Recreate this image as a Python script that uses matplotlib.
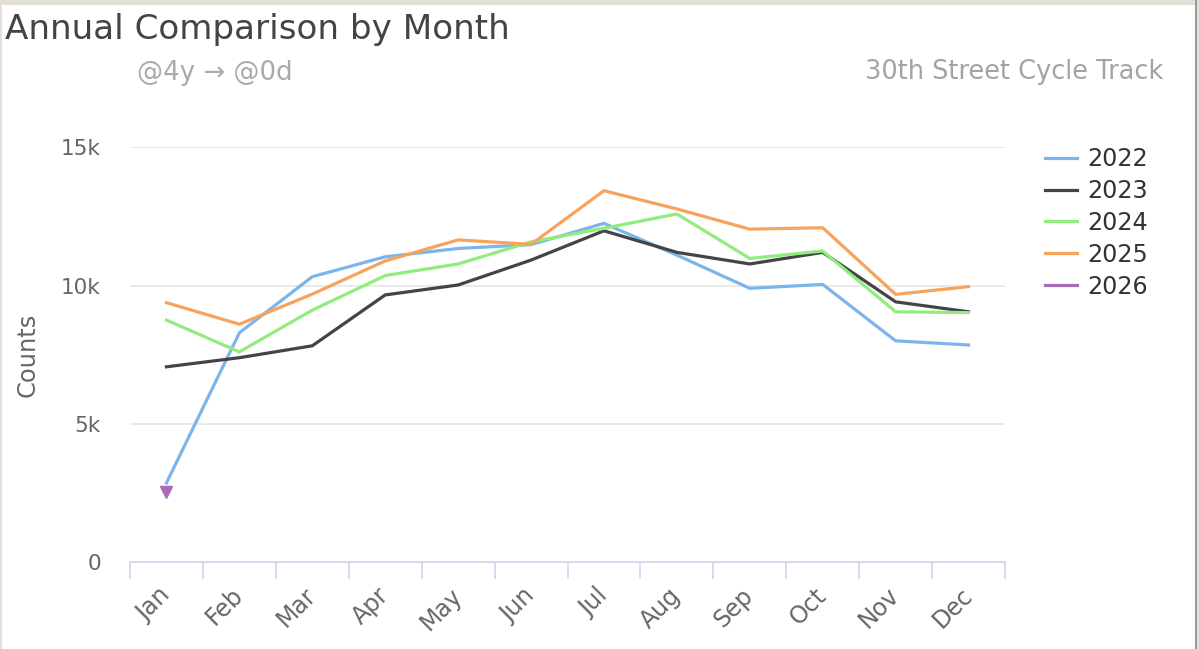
import numpy as np
import matplotlib
matplotlib.use('Agg')
import matplotlib.pyplot as plt
from matplotlib.lines import Line2D
from matplotlib.patches import Rectangle
import matplotlib.transforms as mtransforms

plt.rcParams['font.family'] = ['DejaVu Sans']

# ---------------- data ----------------
months = ['Jan', 'Feb', 'Mar', 'Apr', 'May', 'Jun',
          'Jul', 'Aug', 'Sep', 'Oct', 'Nov', 'Dec']
years = ['2022', '2023', '2024', '2025', '2026']
y2022 = [2860, 8290, 10320, 11040, 11340, 11480, 12250, 11100, 9900, 10040, 8000, 7850]
y2023 = [7060, 7390, 7820, 9660, 10020, 10920, 11980, 11200, 10780, 11200, 9410, 9050]
y2024 = [8750, 7600, 9110, 10360, 10780, 11580, 12070, 12590, 10980, 11250, 9050, 9020]
y2025 = [9380, 8600, 9690, 10890, 11650, 11490, 13430, 12770, 12040, 12090, 9680, 9960]
y2026 = [2540]
yticks = [0, 5000, 10000, 15000]
yticklabels = ['0', '5k', '10k', '15k']

colors = ['#7cb5ec', '#434348', '#90ed7d', '#f7a35c', '#a86cb8']

W, H = 1199, 649
fig = plt.figure(figsize=(W / 100, H / 100), dpi=100)
fig.patch.set_facecolor('white')
renderer = fig.canvas.get_renderer()


def fx(px):
    return px / W


def fy(py):
    return 1 - py / H


def fit(t, target_px, horizontal=True):
    for _ in range(3):
        bb = t.get_window_extent(renderer=renderer)
        cur = bb.width if horizontal else bb.height
        if cur > 0:
            t.set_fontsize(t.get_fontsize() * target_px / cur)


# frame decorations (screenshot border)
fig.add_artist(Rectangle((0, fy(5)), 1, fy(0) - fy(5), transform=fig.transFigure,
                         facecolor='#e4e0d9', edgecolor='none'))
fig.add_artist(Rectangle((0, 0), fx(2), 1, transform=fig.transFigure,
                         facecolor='#e4e0d9', edgecolor='none'))
fig.add_artist(Rectangle((fx(1195), 0), fx(2), 1, transform=fig.transFigure,
                         facecolor='#9a9a9a', edgecolor='none'))
fig.add_artist(Rectangle((fx(1197), 0), fx(2), 1, transform=fig.transFigure,
                         facecolor='#e4e0d9', edgecolor='none'))

ax = fig.add_axes([fx(130), fy(562), fx(1005) - fx(130), fy(147.3) - fy(562)])
x = np.arange(len(months))
series = [y2022, y2023, y2024, y2025]
for vals, c in zip(series, colors[:4]):
    ax.plot(x[:len(vals)], vals, color=c, lw=2.3, solid_joinstyle='round', zorder=3)
ax.plot(x[:len(y2026)], y2026, color=colors[4], lw=2.3, marker='v', markersize=8,
        linestyle='-', zorder=4)

ax.set_xlim(-0.5, len(months) - 0.5)
ax.set_ylim(0, 15000)
ax.set_yticks(yticks)
ax.set_yticklabels(yticklabels)
ax.yaxis.grid(True, color='#e6e6e6', lw=1.2)
ax.set_axisbelow(True)
for s in ['top', 'right', 'left']:
    ax.spines[s].set_visible(False)
ax.spines['bottom'].set_color('#ccd6eb')
ax.spines['bottom'].set_linewidth(1.2)
ax.spines['bottom'].set_zorder(5)

ax.tick_params(axis='y', length=0, pad=21, labelcolor='#666666', labelsize=15.5)
ax.set_xticks(x)
ax.set_xticks(np.arange(-0.5, len(months)), minor=True)
ax.tick_params(axis='x', which='major', length=0, pad=21.5, labelcolor='#666666', labelsize=17)
ax.tick_params(axis='x', which='minor', length=12, width=1.2, color='#ccd6eb')
ax.set_xticklabels(months, rotation=45, ha='right', va='center', rotation_mode='anchor')
off = mtransforms.ScaledTranslation(0 / 100, 0, fig.dpi_scale_trans)
for lab in ax.get_xticklabels():
    lab.set_transform(lab.get_transform() + off)

yl = ax.set_ylabel('Counts', color='#666666', fontsize=15.5)
fit(yl, 85, horizontal=False)
ax.yaxis.set_label_coords((40 - 130) / 875, 0.5)

# titles
t1 = fig.text(fx(5), fy(29), 'Annual Comparison by Month', ha='left', va='center',
              color='#444444', fontsize=20)
fit(t1, 503)
t2 = fig.text(fx(137), fy(73), '@4y \u2192 @0d', ha='left', va='center',
              color='#aaaaaa', fontsize=13)
fit(t2, 156)
t3 = fig.text(fx(1163), fy(72), '30th Street Cycle Track', ha='right', va='center',
              color='#a3a3a3', fontsize=13)
fit(t3, 298)

handles = [Line2D([0], [0], color=c, lw=2.3) for c in colors]
leg = fig.legend(handles, years, loc='upper left', bbox_to_anchor=(fx(1045), fy(147)),
                 frameon=False, fontsize=17.2, handlelength=1.34, handletextpad=0.42,
                 labelspacing=0.33, borderpad=0, borderaxespad=0)
for t in leg.get_texts():
    t.set_color('#333333')

fig.savefig('out.png', dpi=100, facecolor='white')
